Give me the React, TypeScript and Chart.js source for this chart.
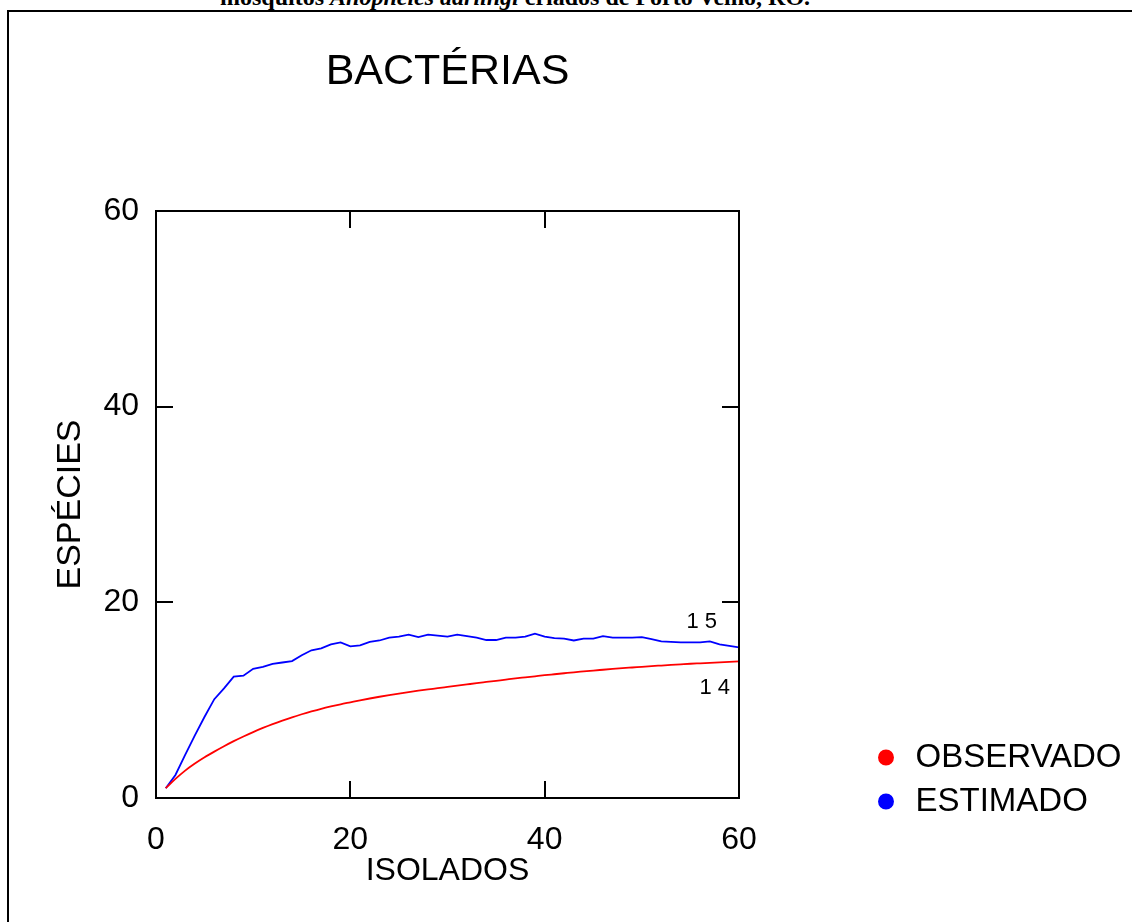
import React, { useEffect, useRef } from "react";
import { Chart, registerables } from "chart.js";

Chart.register(...registerables);

// ---- data ----
const isolados = [
  1, 2, 3, 4, 5, 6, 7, 8, 9, 10, 11, 12, 13, 14, 15, 16, 17, 18, 19, 20,
  21, 22, 23, 24, 25, 26, 27, 28, 29, 30, 31, 32, 33, 34, 35, 36, 37, 38, 39, 40,
  41, 42, 43, 44, 45, 46, 47, 48, 49, 50, 51, 52, 53, 54, 55, 56, 57, 58, 59, 60,
];

const observado = [
  1.0, 1.95, 2.8, 3.52, 4.16, 4.74, 5.29, 5.81, 6.29, 6.74,
  7.16, 7.55, 7.91, 8.25, 8.56, 8.85, 9.12, 9.36, 9.58, 9.78,
  9.98, 10.17, 10.35, 10.52, 10.68, 10.83, 10.97, 11.1, 11.22, 11.35,
  11.48, 11.61, 11.74, 11.86, 11.98, 12.1, 12.22, 12.33, 12.44, 12.55,
  12.65, 12.75, 12.85, 12.94, 13.03, 13.11, 13.19, 13.27, 13.34, 13.41,
  13.48, 13.54, 13.6, 13.66, 13.72, 13.77, 13.82, 13.87, 13.92, 13.97,
];

const estimado = [
  1.0, 2.35, 4.4, 6.4, 8.3, 10.1, 11.2, 12.4, 12.5, 13.2,
  13.4, 13.7, 13.85, 14.0, 14.6, 15.1, 15.3, 15.7, 15.9, 15.5,
  15.6, 15.95, 16.1, 16.4, 16.5, 16.7, 16.45, 16.7, 16.6, 16.5,
  16.7, 16.55, 16.4, 16.15, 16.15, 16.4, 16.4, 16.5, 16.8, 16.5,
  16.35, 16.3, 16.1, 16.3, 16.3, 16.55, 16.4, 16.4, 16.4, 16.45,
  16.25, 16.0, 15.95, 15.9, 15.9, 15.9, 16.0, 15.7, 15.55, 15.4,
];

const seriesNames = ["OBSERVADO", "ESTIMADO"];
const seriesColors = ["#ff0000", "#0000ff"];
const xTicks = [0, 20, 40, 60];
const yTicks = [0, 20, 40, 60];
const endLabels = ["1 5", "1 4"];
const chartTitle = "BACTÉRIAS";
const xTitle = "ISOLADOS";
const yTitle = "ESPÉCIES";

const FONT = "'Liberation Sans', Arial, sans-serif";
const LEGEND_LEFT = 862;
const CANVAS_W = 1132;
const LEGEND_MAX_W = CANVAS_W - LEGEND_LEFT;

const framePlugin = {
  id: "frameAndTicks",
  afterDatasetsDraw(chart: any) {
    const { ctx, chartArea, scales } = chart;
    const { left, right, top, bottom } = chartArea;
    const xs = scales.x;
    const ys = scales.y;
    ctx.save();
    ctx.strokeStyle = "#000";
    ctx.lineWidth = 2;
    ctx.strokeRect(left, top, right - left, bottom - top);
    ctx.beginPath();
    const tl = 17;
    xTicks.forEach((v) => {
      const px = Math.round(xs.getPixelForValue(v));
      ctx.moveTo(px, bottom);
      ctx.lineTo(px, bottom - tl);
      ctx.moveTo(px, top);
      ctx.lineTo(px, top + tl);
    });
    yTicks.forEach((v) => {
      const py = Math.round(ys.getPixelForValue(v));
      ctx.moveTo(left, py);
      ctx.lineTo(left + tl, py);
      ctx.moveTo(right, py);
      ctx.lineTo(right - tl, py);
    });
    ctx.stroke();

    ctx.fillStyle = "#000";
    ctx.font = `22px ${FONT}`;
    ctx.textAlign = "right";
    ctx.textBaseline = "middle";
    const xe = xs.getPixelForValue(isolados[isolados.length - 1]);
    ctx.fillText(endLabels[0], xe - 22, ys.getPixelForValue(estimado[estimado.length - 1]) - 25);
    ctx.fillText(endLabels[1], xe - 9, ys.getPixelForValue(observado[observado.length - 1]) + 27);
    ctx.restore();
  },
};

export default function App() {
  const canvasRef = useRef<HTMLCanvasElement | null>(null);

  useEffect(() => {
    if (!canvasRef.current) return;
    const series = [observado, estimado];
    const chart: any = new Chart(canvasRef.current, {
      type: "line",
      data: {
        datasets: series.map((vals, k) => ({
          label: seriesNames[k],
          data: isolados.map((x, i) => ({ x, y: vals[i] })),
          borderColor: seriesColors[k],
          backgroundColor: seriesColors[k],
          borderWidth: 1.8,
          pointRadius: 0,
          pointHoverRadius: 0,
          pointStyle: "circle",
          tension: k === 0 ? 0.4 : 0,
          cubicInterpolationMode: k === 0 ? "monotone" : "default",
          fill: false,
          xAxisID: "x",
          yAxisID: "y",
        })),
      },
      options: {
        responsive: false,
        animation: false,
        devicePixelRatio: 1,
        layout: { padding: { left: 0, top: 0, right: 0, bottom: 0 } },
        plugins: {
          tooltip: { enabled: false },
          title: {
            display: true,
            text: chartTitle,
            color: "#000",
            fullSize: false,
            font: { family: FONT, size: 43, weight: "normal", lineHeight: 1.2 },
            padding: { top: 46, bottom: 211 - 46 - 51.6 },
          },
          legend: {
            display: true,
            position: "right",
            align: "start",
            fullSize: true,
            maxWidth: LEGEND_MAX_W,
            title: {
              display: true,
              text: " ",
              font: { size: 10, lineHeight: 1 },
              padding: { top: 0, bottom: 720 },
            },
            labels: {
              usePointStyle: true,
              boxWidth: 26,
              boxHeight: 10,
              padding: 11,
              color: "#000",
              font: { family: FONT, size: 33 },
            },
          },
        },
        scales: {
          x: {
            type: "linear",
            position: "bottom",
            min: 0,
            max: 60,
            grid: { display: false },
            border: { display: false },
            ticks: {
              stepSize: 20,
              autoSkip: false,
              maxRotation: 0,
              padding: 15,
              color: "#000",
              font: { family: FONT, size: 32 },
            },
            title: {
              display: true,
              text: xTitle,
              color: "#000",
              font: { family: FONT, size: 32, lineHeight: 1.2 },
              padding: { top: 0, bottom: 32 },
            },
            afterFit(s: any) {
              s.height = 124;
            },
          },
          y: {
            type: "linear",
            position: "left",
            min: 0,
            max: 60,
            grid: { display: false },
            border: { display: false },
            ticks: {
              stepSize: 20,
              padding: 9,
              color: "#000",
              font: { family: FONT, size: 32 },
            },
            title: {
              display: true,
              text: yTitle,
              color: "#000",
              font: { family: FONT, size: 34, lineHeight: 1.2 },
              padding: { top: 50, bottom: 0 },
            },
            afterFit(s: any) {
              s.width = 156;
            },
          },
          y2: {
            type: "linear",
            axis: "y",
            position: "right",
            display: true,
            grid: { display: false },
            border: { display: false },
            ticks: { display: false },
            afterFit(s: any) {
              s.width = 123;
            },
          },
        },
      },
      plugins: [framePlugin],
    } as any);

    // place the legend so that its left edge sits at LEGEND_LEFT
    const lw = chart.legend ? chart.legend.width : LEGEND_MAX_W;
    chart.options.layout.padding.right = Math.max(0, LEGEND_MAX_W - lw);
    chart.update();

    return () => chart.destroy();
  }, []);

  return (
    <div
      style={{
        position: "fixed",
        left: 0,
        top: 0,
        width: 1132,
        height: 922,
        overflow: "hidden",
        background: "#fff",
      }}
    >
      <div
        style={{
          position: "absolute",
          left: 220,
          top: -15,
          whiteSpace: "nowrap",
          fontFamily: "'Liberation Serif', 'Times New Roman', serif",
          fontWeight: "bold",
          fontSize: 24,
          lineHeight: "24px",
          color: "#000",
        }}
      >
        mosquitos <i>Anopheles darlingi</i> criados de Porto Velho, RO.
      </div>
      <div
        style={{
          position: "absolute",
          left: 7,
          top: 10,
          width: 1300,
          height: 1100,
          borderLeft: "2px solid #000",
          borderTop: "2px solid #000",
        }}
      />
      <canvas
        ref={canvasRef}
        width={1132}
        height={922}
        style={{ position: "absolute", left: 0, top: 0, width: 1132, height: 922 }}
      />
    </div>
  );
}
